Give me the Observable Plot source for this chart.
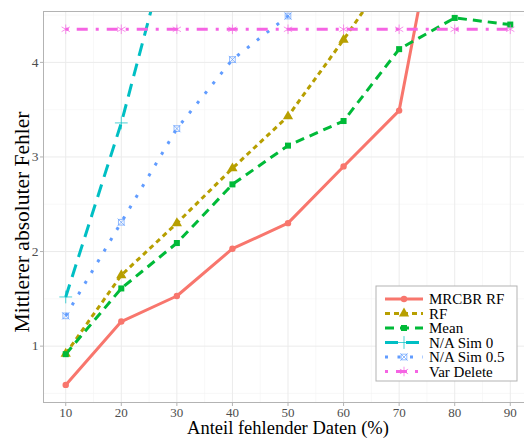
<!DOCTYPE html>
<html>
<head>
<meta charset="utf-8">
<script src="https://cdn.jsdelivr.net/npm/d3@7"></script>
<script src="https://cdn.jsdelivr.net/npm/@observablehq/plot@0.6"></script>
<style>
  body { margin: 0; background: #fff; }
  #chart svg, #chart svg text { font-family: "Liberation Serif", "Times New Roman", serif !important; }
</style>
</head>
<body>
<div id="chart"></div>
<script>
// Proportion of missing data (%) on the x axis
const missingPct = [10, 20, 30, 40, 50, 60, 70, 80, 90];

// Mean absolute error per imputation method (values past the top of the view continue off-panel)
const mrcbrRF   = [0.59, 1.26, 1.53, 2.03, 2.30, 2.90, 3.49, 6.55];
const rf        = [0.92, 1.75, 2.30, 2.88, 3.43, 4.24, 5.09];
const meanImp   = [0.915, 1.61, 2.09, 2.71, 3.12, 3.38, 4.14, 4.47, 4.40];
const naSim0    = [1.52, 3.36, 5.58];
const naSim05   = [1.32, 2.31, 3.30, 4.03, 4.49, 5.00];
const varDelete = [4.35, 4.35, 4.35, 4.35, 4.35, 4.35, 4.35, 4.35, 4.35];

const seriesNames = ["MRCBR RF", "RF", "Mean", "N/A Sim 0", "N/A Sim 0.5", "Var Delete"];
const seriesValues = [mrcbrRF, rf, meanImp, naSim0, naSim05, varDelete];

// Axis ticks and grid breaks
const xTicks = [10, 20, 30, 40, 50, 60, 70, 80, 90];
const xMinor = [15, 25, 35, 45, 55, 65, 75, 85];
const yTicks = [1, 2, 3, 4];
const yMinor = [0.5, 1.5, 2.5, 3.5, 4.5];

// Per-series drawing style
const styles = {
  "MRCBR RF":    {color: "#F8766D", dash: null,          symbol: "circle",   r: 3.2, filled: true},
  "RF":          {color: "#B79F00", dash: "5,4",         symbol: "triangle", r: 3.8, filled: true},
  "Mean":        {color: "#00BA38", dash: "9,6",         symbol: "square",   r: 3.4, filled: true},
  "N/A Sim 0":   {color: "#00BFC4", dash: "13,8",        symbol: "plus",     r: 4.2, filled: false},
  "N/A Sim 0.5": {color: "#619CFF", dash: "3,9.5",       symbol: "square2",  r: 3.6, filled: false},
  "Var Delete":  {color: "#F564E3", dash: "3,8,11,8",    symbol: "asterisk", r: 4.5, filled: false}
};

const rows = seriesNames.flatMap((name, i) =>
  seriesValues[i].map((v, j) => ({method: name, pct: missingPct[j], mae: v}))
);

const lineMarks = seriesNames.map(name => {
  const s = styles[name];
  return Plot.line(rows.filter(d => d.method === name), {
    x: "pct", y: "mae", stroke: s.color, strokeWidth: 3,
    strokeDasharray: s.dash, strokeLinecap: "butt", strokeLinejoin: "round", clip: true
  });
});

const dotMarks = seriesNames.flatMap(name => {
  const s = styles[name];
  const data = rows.filter(d => d.method === name);
  const base = {x: "pct", y: "mae", symbol: s.symbol, r: s.r, clip: true};
  const marks = [s.filled
    ? Plot.dot(data, {...base, fill: s.color, stroke: "none"})
    : Plot.dot(data, {...base, fill: "none", stroke: s.color, strokeWidth: 1, strokeOpacity: 0.7})];
  if (s.symbol === "square2") {
    marks.push(Plot.dot(data, {...base, symbol: "times", r: s.r * 0.95, fill: "none", stroke: s.color, strokeWidth: 1, strokeOpacity: 0.7}));
  }
  return marks;
});

const chart = Plot.plot({
  width: 524,
  height: 438,
  marginLeft: 43,
  marginRight: -8,
  marginTop: 11,
  marginBottom: 36,
  style: {background: "#fff"},
  x: {domain: [6, 94], label: null},
  y: {domain: [0.404, 4.538], label: null},
  marks: [
    Plot.ruleX(xMinor, {stroke: "#f3f3f3", strokeWidth: 0.6}),
    Plot.ruleY(yMinor, {stroke: "#f3f3f3", strokeWidth: 0.6}),
    Plot.ruleX(xTicks, {stroke: "#ebebeb", strokeWidth: 1}),
    Plot.ruleY(yTicks, {stroke: "#ebebeb", strokeWidth: 1}),
    ...lineMarks,
    ...dotMarks,
    Plot.frame({stroke: "#b3b3b3"}),
    Plot.axisX({ticks: xTicks, tickFormat: d => String(d), tickSize: 4, tickPadding: 1, stroke: "#b3b3b3", fill: "#4d4d4d", fontSize: 13, label: null}),
    Plot.axisY({ticks: yTicks, tickFormat: d => String(d), tickSize: 3, tickPadding: 2, stroke: "#b3b3b3", fill: "#4d4d4d", fontSize: 13.5, label: null}),
    Plot.text(["Anteil fehlender Daten (%)"], {frameAnchor: "bottom", textAnchor: "middle", lineAnchor: "middle", dy: 26, fontSize: 18.5, fill: "#000"}),
    Plot.text(["Mittlerer absoluter Fehler"], {frameAnchor: "left", textAnchor: "middle", lineAnchor: "middle", rotate: -90, dx: -21, dy: 15, fontSize: 21.5, fill: "#000"})
  ]
});

// Legend box drawn inside the panel
const svg = d3.select(chart);
const lg = svg.append("g").attr("transform", "translate(376,286)");
lg.append("rect").attr("width", 141).attr("height", 95)
  .attr("fill", "#fff").attr("stroke", "#b3b3b3").attr("stroke-width", 1);
const symbolMap = {
  circle: d3.symbolCircle, triangle: d3.symbolTriangle, square: d3.symbolSquare,
  plus: d3.symbolPlus, square2: d3.symbolSquare2, asterisk: d3.symbolAsterisk, times: d3.symbolTimes
};
seriesNames.forEach((name, i) => {
  const s = styles[name];
  const row = lg.append("g").attr("transform", `translate(0,${13 + i * 14.5})`);
  row.append("line").attr("x1", 9).attr("x2", 47).attr("y1", 0).attr("y2", 0)
    .attr("stroke", s.color).attr("stroke-width", 3)
    .attr("stroke-dasharray", s.dash).attr("stroke-linecap", "butt");
  const size = Math.PI * s.r * s.r;
  const sym = row.append("path").attr("transform", "translate(28,0)")
    .attr("d", d3.symbol(symbolMap[s.symbol], size)());
  if (s.filled) sym.attr("fill", s.color);
  else sym.attr("fill", "#fff").attr("stroke", s.color).attr("stroke-width", 1).attr("stroke-opacity", 0.7);
  if (s.symbol === "square2") {
    row.append("path").attr("transform", "translate(28,0)")
      .attr("d", d3.symbol(d3.symbolTimes, size * 0.9)())
      .attr("fill", "none").attr("stroke", s.color).attr("stroke-width", 1).attr("stroke-opacity", 0.7);
  }
  row.append("text").attr("x", 53).attr("y", 0).attr("dy", "0.35em")
    .attr("text-anchor", "start")
    .attr("font-size", 15).attr("fill", "#000").text(name);
});

document.getElementById("chart").append(chart);
</script>
</body>
</html>
